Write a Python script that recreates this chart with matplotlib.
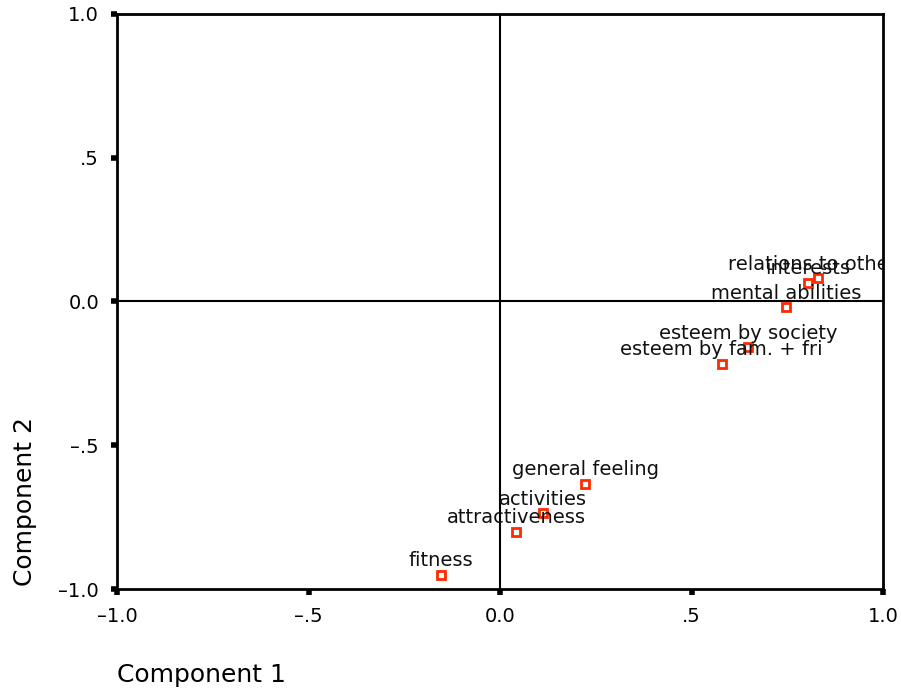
import matplotlib.pyplot as plt

# component loadings
labels = ["relations to others", "interests", "mental abilities",
          "esteem by society", "esteem by fam. + fri",
          "general feeling", "activities", "attractiveness", "fitness"]
comp1 = [0.830, 0.804, 0.746, 0.647, 0.579, 0.223, 0.112, 0.042, -0.154]
comp2 = [0.080, 0.063, -0.021, -0.160, -0.216, -0.633, -0.737, -0.800, -0.950]

ticks = [-1.0, -0.5, 0.0, 0.5, 1.0]
tick_labels = ["\u20131.0", "\u2013.5", "0.0", ".5", "1.0"]

fig = plt.figure(figsize=(9.01, 6.93), dpi=100)
ax = fig.add_axes([0.130, 0.150, 0.850, 0.830])

ax.axhline(0, color="black", lw=1.5, zorder=1)
ax.axvline(0, color="black", lw=1.5, zorder=1)

ax.plot(comp1, comp2, ls="none", marker="s", ms=6, mfc="white",
        mec="#ff2a00", mew=2, zorder=3)

for lab, x, y in zip(labels, comp1, comp2):
    ax.annotate(lab, (x, y), xytext=(0, 3.5), textcoords="offset points",
                ha="center", va="bottom", fontsize=14, color="#111111",
                annotation_clip=False, clip_on=True, zorder=4)

ax.set_xlim(-1.0, 1.0)
ax.set_ylim(-1.0, 1.0)
ax.set_xticks(ticks)
ax.set_xticklabels(tick_labels)
ax.set_yticks(ticks)
ax.set_yticklabels(tick_labels)
ax.tick_params(direction="out", length=4, width=4, labelsize=14)
ax.tick_params(axis="x", pad=9)
ax.tick_params(axis="y", pad=9)

for sp in ax.spines.values():
    sp.set_linewidth(2)

fig.text(0.028, 0.276, "Component 2", rotation=90, fontsize=18,
         ha="center", va="center")
fig.text(0.130, 0.016, "Component 1", fontsize=18, ha="left", va="baseline")

fig.savefig("out.png", dpi=100)
